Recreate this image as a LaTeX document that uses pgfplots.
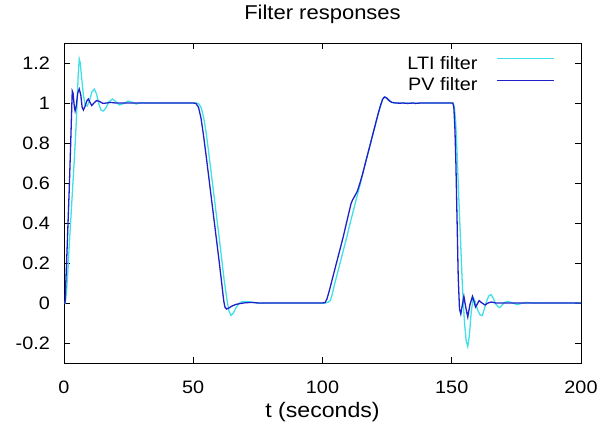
\documentclass[border=0pt]{standalone}
\usepackage{fontspec}
\setmainfont{Liberation Sans}[FakeStretch=1.1]
\usepackage{pgfplots}
\pgfplotsset{compat=1.18}
\definecolor{lti}{RGB}{64,224,232}
\definecolor{pv}{RGB}{32,32,200}
\begin{document}
\begin{tikzpicture}
\begin{axis}[
  scale only axis, width=517pt, height=320pt,
  xmin=0, xmax=200, ymin=-0.3, ymax=1.3,
  xtick={0,50,100,150,200},
  ytick={-0.2,0,0.2,0.4,0.6,0.8,1,1.2},
  /pgf/number format/assume math mode=true,
  font=\fontsize{18}{21}\selectfont,
  tick align=inside, major tick length=6pt,
  axis line style={line width=0.8pt},
  tick style={line width=0.8pt, black},
  yticklabel style={anchor=east, inner sep=0pt, xshift=-14pt},
  xticklabel style={anchor=base, inner sep=0pt, yshift=-30pt},
  title={Filter responses},
  title style={at={(rel axis cs:0.5,1)}, anchor=base, inner sep=0pt, yshift=17pt,
    font=\fontsize{20}{23}\selectfont},
  xlabel={t (seconds)},
  xlabel style={at={(rel axis cs:0.5,0)}, anchor=base, inner sep=0pt, yshift=-54pt,
    font=\fontsize{21}{24}\selectfont},
  legend plot pos=right,
  legend cell align=right,
  legend image code/.code={\draw[#1] (0pt,6pt) -- (57pt,6pt);},
  legend style={draw=none, fill=none, at={(rel axis cs:1,1)}, anchor=north east,
    xshift=-26pt, yshift=-13pt, inner sep=0pt, row sep=4.7pt, column sep=19pt,
    nodes={inner sep=0pt, text height=13pt, text depth=4pt}},
]
\coordinate (bl) at (rel axis cs:0,0);
\coordinate (tr) at (rel axis cs:1,1);
\addplot[lti, line width=1.3pt] coordinates {
(0,0) (0.5,0) (1,0.06) (1.5,0.16) (2,0.28) (2.5,0.39) (3,0.5) (3.5,0.61) (4,0.72) (4.5,0.84)
(5,0.98) (5.5,1.14) (5.9,1.22) (6.3,1.2) (6.8,1.13) (7.5,1.04) (8.2,0.99) (9.0,0.985) (9.8,1.01)
(10.8,1.055) (11.7,1.07) (12.6,1.045) (13.5,0.995) (14.3,0.965) (15.2,0.96) (16.2,0.975)
(17.3,1.005) (18.7,1.02) (20,1.008) (21.4,0.99) (23,0.997) (24.9,1.01) (26.5,1.003)
(27.9,0.995) (30,1.002) (32,1.0) (51,1.0) (52,0.998) (53,0.98) (54,0.93) (55,0.85) (56,0.75)
(57,0.645) (58,0.54) (59,0.435) (60,0.33) (61,0.22) (62,0.11) (63,0.02) (63.8,-0.04)
(64.6,-0.062) (65.5,-0.05) (66.5,-0.025) (67.5,-0.005) (68.7,0.006) (70,0.008) (72,0.006)
(74,0.002) (76,-0.002) (78,0) (101,0) (102,0.003) (103,0.012) (103.7,0.04) (104.5,0.085)
(105.5,0.135) (106.5,0.185) (107.5,0.235) (108.5,0.285) (109.5,0.335) (110.5,0.39)
(111.5,0.44) (112.5,0.49) (113.5,0.54) (114.5,0.59) (115.5,0.642) (116.5,0.695) (117.5,0.745)
(118.5,0.795) (119.5,0.845) (120.5,0.895) (121.5,0.945) (122.5,0.99) (123.3,1.02) (124,1.03)
(124.8,1.025) (125.8,1.012) (126.8,1.003) (128.4,1.0) (130,0.999) (131,1.0) (133,0.998)
(135,1.0) (136,0.998) (138,1.0) (150.5,1.0) (151,0.98) (151.5,0.91) (152,0.77) (152.5,0.6)
(153,0.44) (153.5,0.28) (154,0.12) (154.5,-0.01) (155,-0.11) (155.6,-0.19) (156.2,-0.218)
(156.8,-0.165) (157.5,-0.05) (158.3,0.028) (159,0.01) (160,-0.035) (161,-0.06) (161.8,-0.063)
(162.6,-0.03) (163.5,0.01) (164.3,0.035) (165.2,0.042) (166,0.025) (167,-0.005) (168,-0.02)
(168.7,-0.022) (169.5,-0.01) (170.5,0.004) (171.9,0.008) (173.5,0) (175.4,-0.008) (177,-0.002)
(179,0.003) (182,0) (200,0)
};
\addlegendentry{LTI filter}
\addplot[pv, line width=1.3pt] coordinates {
(0,0) (0.4,0) (1,0.2) (1.5,0.38) (2,0.56) (2.5,0.76) (3.0,0.98) (3.2,1.06) (3.5,1.05) (4.0,0.98)
(4.3,0.96) (4.8,0.99) (5.3,1.05) (5.9,1.07) (6.5,1.04) (7.0,0.98) (7.5,0.965) (8.2,0.985)
(8.8,1.01) (9.4,1.02) (10.0,1.005) (10.7,0.987) (11.6,1.0) (12.6,1.012) (13.7,1.008) (15,0.998)
(16.5,1.0) (18,1.003) (20,1.0) (50,1.0) (51,0.998) (52,0.98) (53,0.925) (54,0.835) (55,0.735)
(56,0.63) (57,0.525) (58,0.42) (59,0.315) (60,0.21) (61,0.1) (61.8,0.01) (62.3,-0.022)
(62.9,-0.03) (63.8,-0.025) (65,-0.015) (66.5,-0.007) (68,-0.003) (70,0.001) (72.6,0.003)
(75,0) (100,0) (101,0.002) (101.7,0.02) (102.5,0.055) (103,0.08) (104,0.13) (105,0.18)
(106,0.23) (107,0.28) (108,0.33) (109,0.385) (110,0.44) (111,0.495) (111.6,0.515)
(112.5,0.535) (113.5,0.56) (114.5,0.6) (115.5,0.645) (116.5,0.695) (117.5,0.745)
(118.5,0.795) (119.5,0.845) (120.5,0.895) (121.5,0.945) (122.5,0.99) (123.3,1.02) (124,1.03)
(124.8,1.025) (125.8,1.012) (126.8,1.003) (128.4,1.0) (130,0.999) (131,1.0) (133,0.998)
(135,1.0) (136,0.998) (138,1.0) (150.4,1.0) (150.8,0.98) (151.2,0.88) (151.6,0.70) (152,0.45)
(152.5,0.13) (153,-0.03) (153.5,-0.055) (154.1,-0.01) (154.7,0.033) (155.4,-0.02)
(156.2,-0.07) (157.0,-0.01) (158.0,0.033) (158.6,0.008) (159.2,-0.02) (159.9,-0.005)
(160.6,0.012) (161.7,0) (162.9,-0.01) (164,0) (165.4,0.005) (167,0) (200,0)
};
\addlegendentry{PV filter}
\end{axis}
\path ([shift={(-64pt,-69pt)}]bl) rectangle ([shift={(29pt,43pt)}]tr);
\end{tikzpicture}
\end{document}
